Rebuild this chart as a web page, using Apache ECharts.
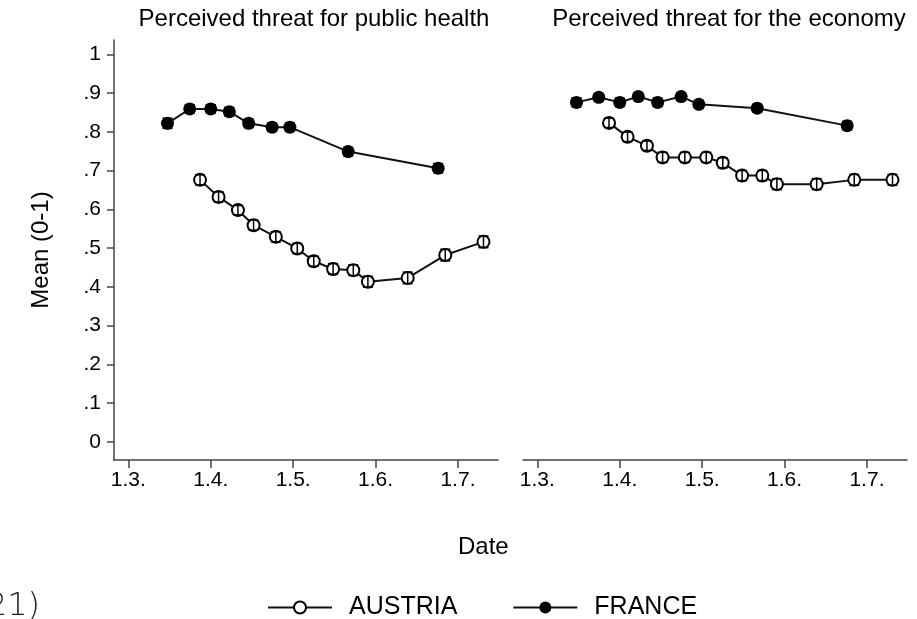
<!DOCTYPE html>
<html>
<head>
<meta charset="utf-8">
<script src="https://cdn.jsdelivr.net/npm/echarts@6/dist/echarts.min.js"></script>
<style>html,body{margin:0;padding:0;background:#fff}#c{width:917px;height:619px}</style>
</head>
<body>
<div id="c"></div>
<script>
// Dates expressed as month number (3 = 1 March, 4 = 1 April, ...)
const austriaDates = [3.87, 4.095, 4.33, 4.52, 4.79, 5.05, 5.25, 5.485, 5.73, 5.907, 6.39, 6.846, 7.31];
const franceDates  = [3.475, 3.745, 4.0, 4.225, 4.46, 4.745, 4.96, 5.668, 6.76];

const austriaHealth    = [0.676, 0.632, 0.598, 0.559, 0.529, 0.499, 0.466, 0.446, 0.443, 0.413, 0.423, 0.482, 0.516];
const franceHealth     = [0.822, 0.859, 0.859, 0.852, 0.822, 0.812, 0.812, 0.749, 0.706];
const austriaEconomy   = [0.823, 0.787, 0.764, 0.734, 0.734, 0.734, 0.720, 0.687, 0.687, 0.665, 0.665, 0.676, 0.676];
const franceEconomy    = [0.876, 0.889, 0.876, 0.891, 0.876, 0.891, 0.871, 0.861, 0.816];

const austriaHealthErr  = [0.013, 0.013, 0.012, 0.013, 0.013, 0.013, 0.013, 0.014, 0.014, 0.014, 0.015, 0.015, 0.015];
const franceHealthErr   = [0.013, 0.011, 0.011, 0.011, 0.011, 0.011, 0.011, 0.011, 0.012];
const austriaEconomyErr = [0.012, 0.012, 0.012, 0.013, 0.013, 0.013, 0.013, 0.013, 0.013, 0.014, 0.014, 0.014, 0.014];
const franceEconomyErr  = [0.012, 0.010, 0.011, 0.010, 0.011, 0.010, 0.010, 0.010, 0.011];

const xTicks = [3, 4, 5, 6, 7];
const yTicks = [0, 0.1, 0.2, 0.3, 0.4, 0.5, 0.6, 0.7, 0.8, 0.9, 1];
const panelTitles = ['Perceived threat for public health', 'Perceived threat for the economy'];
const countries = ['AUSTRIA', 'FRANCE'];

const FONT = '"Liberation Sans", Arial, sans-serif';
const AX = '#444';
const TXT = '#000';

function pairs(xs, ys) { return xs.map((x, i) => [x, ys[i]]); }
function triples(xs, ys, es) { return xs.map((x, i) => [x, ys[i], es[i]]); }

function xAxisFor(gi) {
  return {
    type: 'value', gridIndex: gi, min: 2.826, max: 7.486,
    axisLine: { show: true, onZero: false, lineStyle: { color: AX, width: 1.5 } },
    axisTick: { show: true, length: 8, customValues: xTicks, lineStyle: { color: AX, width: 1.5 } },
    axisLabel: { customValues: xTicks, formatter: v => '1.' + v + '.', fontFamily: FONT, fontSize: 21, color: TXT, margin: 10 },
    splitLine: { show: false }
  };
}
function yAxisFor(gi, show) {
  return {
    type: 'value', gridIndex: gi, min: -0.047, max: 1.037, show: show,
    name: show ? 'Mean (0-1)' : '', nameLocation: 'middle', nameRotate: 90, nameGap: 61,
    nameTextStyle: { fontFamily: FONT, fontSize: 24, color: TXT },
    axisLine: { show: true, lineStyle: { color: AX, width: 1.5 } },
    axisTick: { show: true, length: 7, customValues: yTicks, lineStyle: { color: AX, width: 1.5 } },
    axisLabel: {
      customValues: yTicks, fontFamily: FONT, fontSize: 21, color: TXT, margin: 13,
      formatter: v => (Math.abs(v) < 1e-9 ? '0' : Math.abs(v - 1) < 1e-9 ? '1' : v.toFixed(1).replace(/^0/, ''))
    },
    splitLine: { show: false }
  };
}

function lineSeries(name, gi, xs, ys, filled) {
  return {
    type: 'line', name: name, xAxisIndex: gi, yAxisIndex: gi,
    data: pairs(xs, ys),
    symbol: filled ? 'circle' : 'emptyCircle',
    symbolSize: filled ? 13 : 12,
    showSymbol: true,
    lineStyle: { color: '#111', width: 2 },
    itemStyle: { color: '#000', borderColor: '#000', borderWidth: filled ? 0 : 1.8 },
    emphasis: { disabled: true },
    z: 3
  };
}
function errSeries(gi, xs, ys, es) {
  return {
    type: 'custom', xAxisIndex: gi, yAxisIndex: gi,
    data: triples(xs, ys, es),
    z: 4, silent: true,
    renderItem: function (params, api) {
      const x = api.value(0), y = api.value(1), e = api.value(2);
      const lo = api.coord([x, y - e]);
      const hi = api.coord([x, y + e]);
      const w = 5;
      const st = { stroke: '#000', lineWidth: 1.5 };
      return {
        type: 'group',
        children: [
          { type: 'line', shape: { x1: lo[0], y1: lo[1], x2: hi[0], y2: hi[1] }, style: st },
          { type: 'line', shape: { x1: lo[0] - w, y1: lo[1], x2: lo[0] + w, y2: lo[1] }, style: st },
          { type: 'line', shape: { x1: hi[0] - w, y1: hi[1], x2: hi[0] + w, y2: hi[1] }, style: st }
        ]
      };
    }
  };
}

const chart = echarts.init(document.getElementById('c'), null, { renderer: 'canvas' });
chart.setOption({
  animation: false,
  backgroundColor: '#fff',
  textStyle: { fontFamily: FONT },
  title: [
    { text: panelTitles[0], left: 309, top: 2, textAlign: 'center', textStyle: { fontFamily: FONT, fontSize: 24, fontWeight: 'normal', color: TXT } },
    { text: panelTitles[1], left: 724, top: 2, textAlign: 'center', textStyle: { fontFamily: FONT, fontSize: 24, fontWeight: 'normal', color: TXT } }
  ],
  grid: [
    { left: 114, top: 40, width: 384, height: 420 },
    { left: 523, top: 40, width: 384, height: 420 }
  ],
  xAxis: [xAxisFor(0), xAxisFor(1)],
  yAxis: [yAxisFor(0, true), yAxisFor(1, false)],
  legend: {
    data: countries, left: 262, top: 590, itemWidth: 64, itemHeight: 15, itemGap: 55,
    textStyle: { fontFamily: FONT, fontSize: 25, color: TXT, padding: [0, 0, 0, 12] },
    selectedMode: false
  },
  graphic: [
    { type: 'text', left: 458, top: 535, style: { text: 'Date', font: '24px "Liberation Sans", Arial, sans-serif', fill: TXT } },
    { type: 'text', right: 877, top: 591, style: { text: '(2021)', font: '300 32px "DejaVu Sans", sans-serif', fill: '#222' } }
  ],
  series: [
    lineSeries(countries[0], 0, austriaDates, austriaHealth, false),
    lineSeries(countries[1], 0, franceDates, franceHealth, true),
    lineSeries(countries[0], 1, austriaDates, austriaEconomy, false),
    lineSeries(countries[1], 1, franceDates, franceEconomy, true),
    errSeries(0, austriaDates, austriaHealth, austriaHealthErr),
    errSeries(0, franceDates, franceHealth, franceHealthErr),
    errSeries(1, austriaDates, austriaEconomy, austriaEconomyErr),
    errSeries(1, franceDates, franceEconomy, franceEconomyErr)
  ]
});
</script>
</body>
</html>
